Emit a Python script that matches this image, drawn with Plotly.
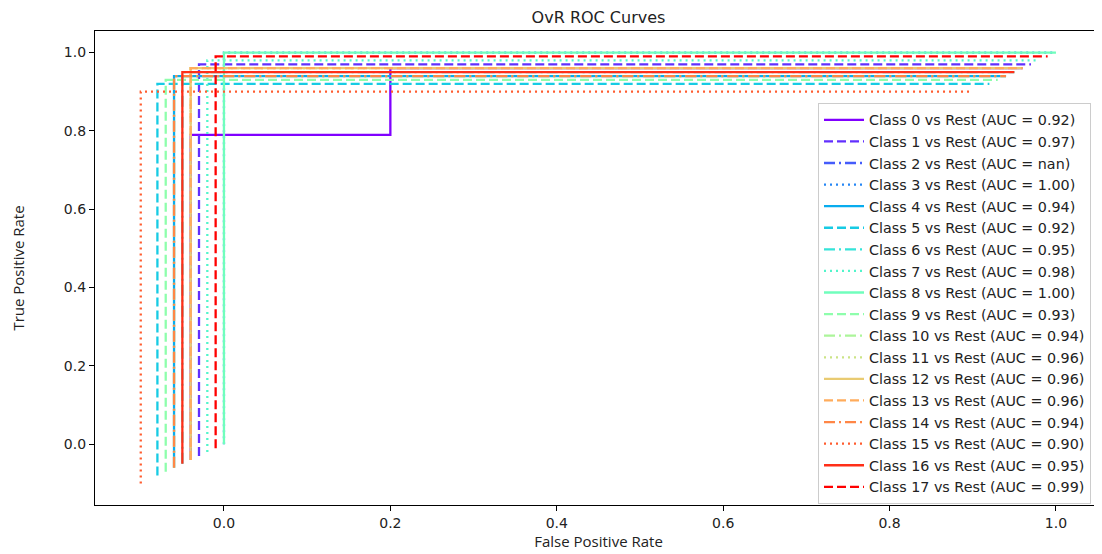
import numpy as np
import plotly.graph_objects as go

# ---------------- data ----------------
class_ids = list(range(18))
auc_labels = ["0.92", "0.97", "nan", "1.00", "0.94", "0.92", "0.95", "0.98", "1.00",
              "0.93", "0.94", "0.96", "0.96", "0.96", "0.94", "0.90", "0.95", "0.99"]
# per-class plotting offset applied to both fpr and tpr
offsets = [-0.04, -0.03, np.nan, 0.00, -0.06, -0.08, -0.05, -0.02, 0.00,
           -0.07, -0.06, -0.04, -0.04, -0.04, -0.06, -0.10, -0.05, -0.01]

fpr_0 = [0.0, 0.0, 0.24, 0.24, 1.0]
tpr_0 = [0.0, 0.83, 0.83, 1.0, 1.0]
fpr_ideal = [0.0, 0.0, 1.0]
tpr_ideal = [0.0, 1.0, 1.0]
fpr_nan = [0.0, 0.0, 1.0]
tpr_nan = [np.nan, np.nan, np.nan]

fpr_list = [fpr_0, fpr_ideal, fpr_nan] + [fpr_ideal] * 15
tpr_list = [tpr_0, tpr_ideal, tpr_nan] + [tpr_ideal] * 15

x_ticks = [0.0, 0.2, 0.4, 0.6, 0.8, 1.0]
y_ticks = [0.0, 0.2, 0.4, 0.6, 0.8, 1.0]

# ---------------- styles ----------------
def rainbow(t):
    r = min(max(abs(2 * t - 0.5), 0), 1)
    g = min(max(np.sin(np.pi * t), 0), 1)
    b = min(max(np.cos(np.pi * t / 2), 0), 1)
    return "rgb(%d,%d,%d)" % (round(r * 255), round(g * 255), round(b * 255))

n = len(class_ids)
colors = [rainbow(i / (n - 1)) for i in range(n)]
dash_cycle = ["solid", "9px,4px", "11px,4px,2px,4px", "2px,4px"]

fig = go.Figure()
for i in class_ids:
    off = offsets[i]
    xs = [None if np.isnan(off) else v + off for v in fpr_list[i]]
    ys = [None if (np.isnan(off) or np.isnan(v)) else v + off for v in tpr_list[i]]
    fig.add_trace(go.Scatter(
        x=xs, y=ys, mode="lines",
        name=f"Class {i} vs Rest (AUC = {auc_labels[i]})",
        line=dict(color=colors[i], width=2.3, dash=dash_cycle[i % 4]),
        hoverinfo="skip",
    ))

# the page body adds an 8px offset; the figure is sized to fill the window
W, H = 1094, 546
L, R, T, B = 87, 0, 23, 49
pw = W - L - R
ph = H - T - B

fig.update_layout(
    width=W, height=H,
    margin=dict(l=L, r=R, t=T, b=B, autoexpand=False),
    plot_bgcolor="white", paper_bgcolor="white",
    font=dict(family="DejaVu Sans", size=14, color="#222222"),
    title=dict(text="OvR ROC Curves", x=0.5, xref="paper", xanchor="center",
               y=1 - 9 / H, yref="container", yanchor="middle", automargin=False,
               font=dict(family="DejaVu Sans", size=16, color="#222222")),
    showlegend=True,
    legend=dict(
        x=(1083 - L) / pw, xanchor="right",
        y=1 - (95 - T) / ph, yanchor="top",
        bgcolor="rgba(255,255,255,0.85)",
        bordercolor="#cccccc", borderwidth=1,
        font=dict(family="DejaVu Sans", size=14.3, color="#222222"),
        itemwidth=40,
        tracegroupgap=0,
    ),
)

axis_common = dict(
    showgrid=False, zeroline=False, automargin=False,
    showline=True, linecolor="black", linewidth=1.3, mirror=True,
    ticks="outside", ticklen=5, tickwidth=1.2, tickcolor="black",
    tickfont=dict(family="DejaVu Sans", size=14, color="#222222"),
)
fig.update_xaxes(range=[-0.155, -0.155 + pw / 832.0], tickvals=x_ticks,
                 ticktext=[f"{v:.1f}" for v in x_ticks],
                 title=dict(text="False Positive Rate", standoff=3,
                            font=dict(family="Open Sans", size=15, color="#222222")),
                 **axis_common)
fig.update_yaxes(range=[-0.155, 1.055], tickvals=y_ticks,
                 ticktext=[f"{v:.1f}" for v in y_ticks],
                 title=dict(text="True Positive Rate", standoff=38,
                            font=dict(family="Open Sans", size=15, color="#222222")),
                 **axis_common)

fig.write_html("out.html")
